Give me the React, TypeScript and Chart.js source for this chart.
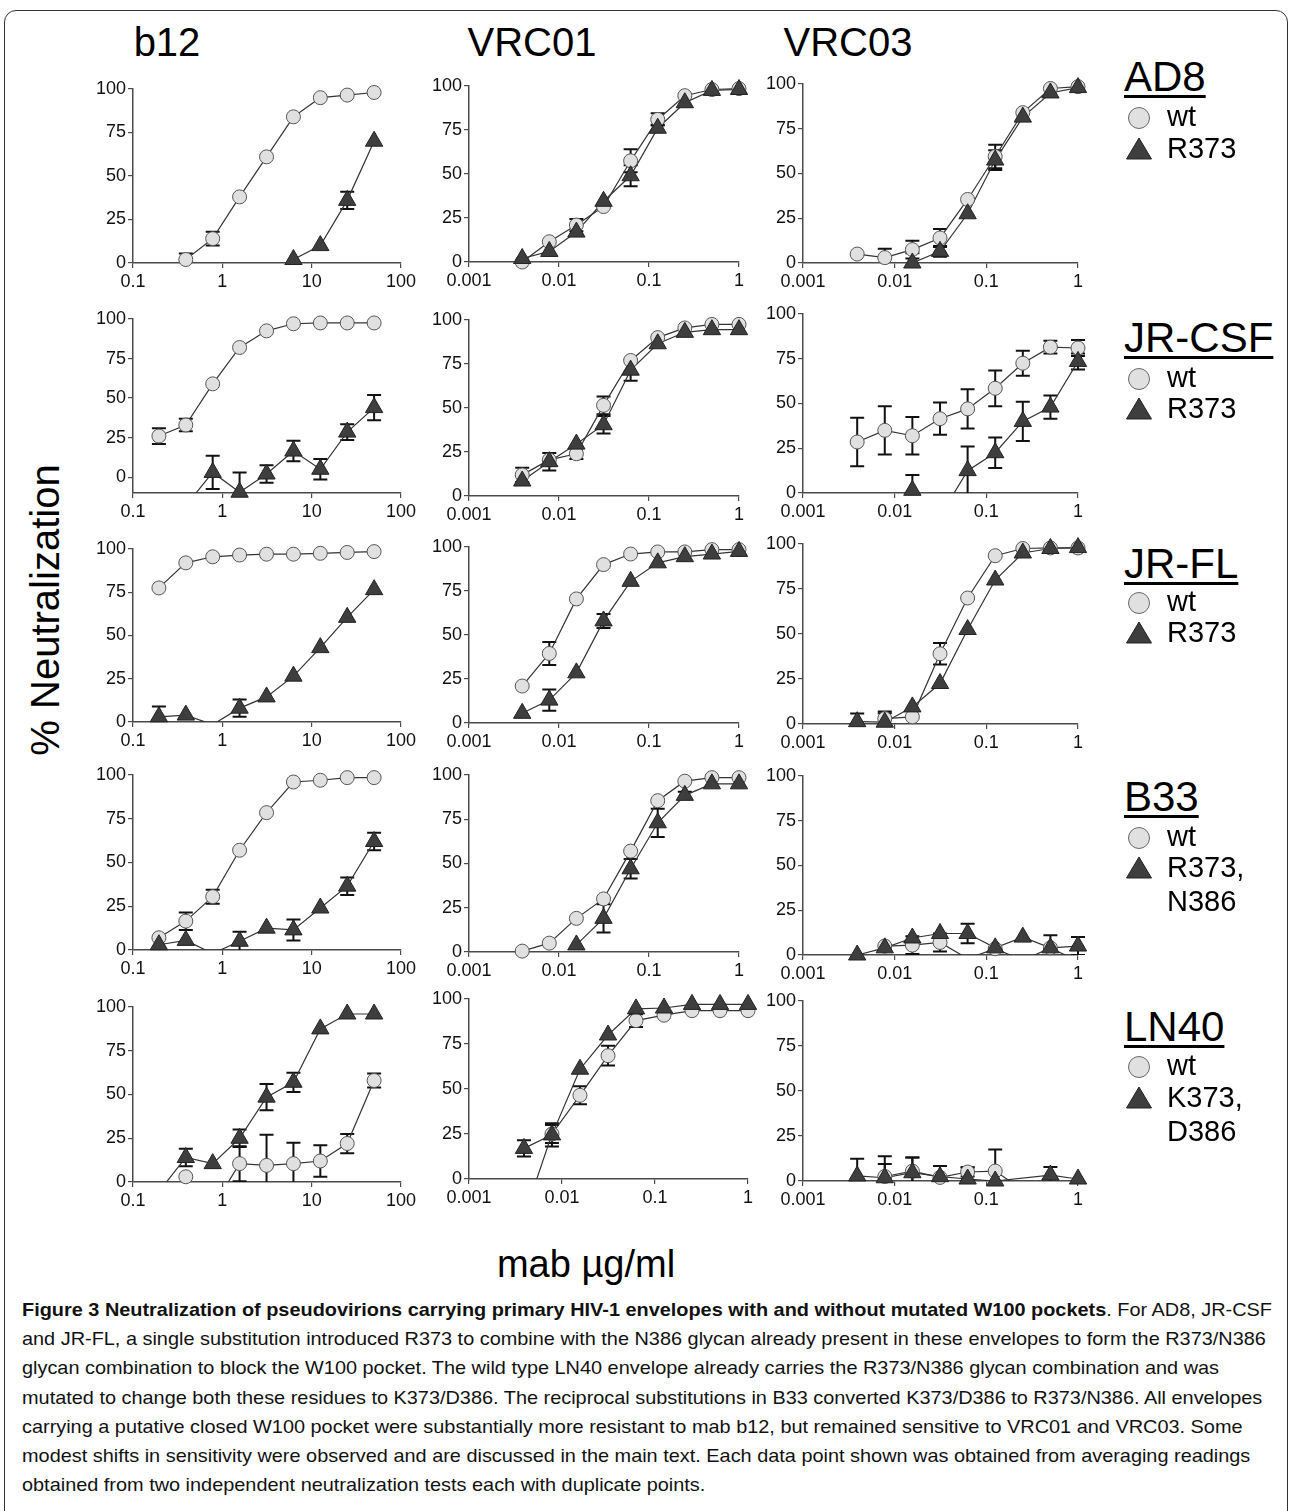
import React, { useEffect, useRef } from "react";
import { Chart, registerables } from "chart.js";
Chart.register(...registerables);

// ---------- data ----------
const B12_DOSES = [0.195, 0.39, 0.78, 1.56, 3.125, 6.25, 12.5, 25, 50];
const VRC_DOSES = [0.0039, 0.0078, 0.0156, 0.03125, 0.0625, 0.125, 0.25, 0.5, 1];
const B12_TICKS = [0.1, 1, 10, 100];
const B12_TICK_LABELS = ["0.1", "1", "10", "100"];
const VRC_TICKS = [0.001, 0.01, 0.1, 1];
const VRC_TICK_LABELS = ["0.001", "0.01", "0.1", "1"];
const Y_TICKS = [0, 25, 50, 75, 100];

const COLUMN_TITLES = ["b12", "VRC01", "VRC03"];
const ENVELOPES = ["AD8", "JR-CSF", "JR-FL", "B33", "LN40"];
const WT_LABEL = "wt";
const MUTANT_LABELS = [["R373"], ["R373"], ["R373"], ["R373,", "N386"], ["K373,", "D386"]];
const Y_TITLE = "% Neutralization";
const X_TITLE = "mab µg/ml";

// AD8
const AD8_B12_WT = [null, 2, 14, 38, 61, 84, 95, 96.5, 98];
const AD8_B12_WT_ERR = [null, 3.5, 4, null, null, null, null, null, null];
const AD8_B12_MUT = [null, null, null, null, null, 2, 10, 36, 70];
const AD8_B12_MUT_ERR = [null, null, null, null, null, null, null, 5, null];
const AD8_VRC01_WT = [0, 11.5, 21, 31.5, 57.5, 81, 94.5, 98, 98.5];
const AD8_VRC01_WT_ERR = [null, null, 3.5, null, 6.5, 3.5, null, null, null];
const AD8_VRC01_MUT = [2, 6, 17, 34.5, 49, 76, 90.5, 97.5, 98];
const AD8_VRC01_MUT_ERR = [null, null, null, null, 6, 2, null, null, null];
const AD8_VRC03_WT = [5, 3, 7.5, 14, 35.5, 59.5, 84, 97.5, 98.5];
const AD8_VRC03_WT_ERR = [null, 5, 5, 5, null, 6.5, null, null, null];
const AD8_VRC03_MUT = [null, null, 0, 6.5, 27.5, 57.5, 81.5, 95, 98];
const AD8_VRC03_MUT_ERR = [null, null, 5.5, 3, null, 5.5, null, null, null];

// JR-CSF
const JRCSF_B12_WT = [26, 33, 59, 82, 92.5, 97, 97.5, 97.5, 97.5];
const JRCSF_B12_WT_ERR = [5, 4, null, null, null, null, null, null, null];
const JRCSF_B12_MUT = [null, -18, 3, -9.5, 2, 16.5, 5, 28.5, 44];
const JRCSF_B12_MUT_ERR = [null, null, 10.5, 12.5, 5.5, 6.5, 6.5, 5, 8];
const JRCSF_VRC01_WT = [12, 20.5, 24, 51.5, 77, 90, 95.5, 97.5, 97.5];
const JRCSF_VRC01_WT_ERR = [4, null, 3, 5, null, null, null, null, null];
const JRCSF_VRC01_MUT = [8.5, 19.5, 29.5, 40.5, 71.5, 86.5, 93, 94.5, 94.5];
const JRCSF_VRC01_MUT_ERR = [null, 5, null, 5, 6, null, null, null, null];
const JRCSF_VRC03_WT = [28.5, 35, 32, 41.5, 47, 58.5, 72.5, 81.5, 81];
const JRCSF_VRC03_WT_ERR = [13.5, 13.5, 10.5, 9, 11, 10, 7, 3.5, 4.5];
const JRCSF_VRC03_MUT = [null, null, 1.5, -13, 12.5, 22.5, 40, 48, 73.5];
const JRCSF_VRC03_MUT_ERR = [null, null, 8.5, null, 13.5, 8.5, 11, 6.5, 4.5];

// JR-FL
const JRFL_B12_WT = [77.5, 92, 95.5, 96.5, 97, 97, 97.5, 98, 98.5];
const JRFL_B12_WT_ERR = [null, null, null, null, null, null, null, null, null];
const JRFL_B12_MUT = [3, 4, -1.5, 8, 14.5, 26.5, 43, 60.5, 76.5];
const JRFL_B12_MUT_ERR = [6, null, null, 5, null, null, null, null, null];
const JRFL_VRC01_WT = [21, 39.5, 70.5, 90, 96, 97.2, 97.2, 98.5, 98.5];
const JRFL_VRC01_WT_ERR = [null, 6.5, null, null, null, null, null, null, null];
const JRFL_VRC01_MUT = [5.5, 13, 28.5, 58, 80.5, 91, 94.5, 96, 97.5];
const JRFL_VRC01_MUT_ERR = [null, 6, null, 4, null, null, null, null, null];
const JRFL_VRC03_WT = [null, 3, 4, 39, 70, 93.5, 97.5, 97.8, 97.8];
const JRFL_VRC03_WT_ERR = [null, 4, null, 6, null, null, null, null, null];
const JRFL_VRC03_MUT = [1.3, 1, 9.5, 22.5, 52.5, 80, 95, 97.5, 98];
const JRFL_VRC03_MUT_ERR = [4.5, 5, null, null, null, null, null, null, null];

// B33
const B33_B12_WT = [7, 16.5, 30.5, 57, 78.5, 96, 97, 98.5, 98.5];
const B33_B12_WT_ERR = [null, 5, 4, null, null, null, null, null, null];
const B33_B12_MUT = [3, 5.5, -2, 5, 12.5, 11.5, 24, 36.5, 62];
const B33_B12_MUT_ERR = [null, null, null, 5.5, null, 6, null, 5, 5];
const B33_VRC01_WT = [0.5, 5, 19, 30, 57, 85.5, 96.5, 98.5, 98.5];
const B33_VRC01_WT_ERR = [null, null, null, null, null, null, null, null, null];
const B33_VRC01_MUT = [null, null, 4, 19, 47, 73, 88.5, 95, 95];
const B33_VRC01_MUT_ERR = [null, null, null, 8, 5.5, 8, 2, null, null];
const B33_VRC03_WT = [null, 5, 5.5, 7, -2, 3.5, -3, 4, -3.5];
const B33_VRC03_WT_ERR = [null, null, 5, 5, null, null, null, null, null];
const B33_VRC03_MUT = [0, 4, 9.5, 12, 12, 4, 10, 4, 5];
const B33_VRC03_MUT_ERR = [null, null, null, null, 5.5, null, null, 7, 5];

// LN40
const LN40_B12_WT = [null, 3, -14.5, 10.5, 9.5, 10.5, 12, 22, 58];
const LN40_B12_WT_ERR = [null, null, null, 10, 17.5, 12, 9, 5.5, 4];
const LN40_B12_MUT = [-5.5, 14, 10.5, 25, 48.5, 57, 87.5, 96, 96];
const LN40_B12_MUT_ERR = [null, 5, null, 5, 7.5, 5.5, null, null, null];
const LN40_VRC01_WT = [-21, 25, 46.5, 68.5, 88, 91, 93.5, 93.5, 93.5];
const LN40_VRC01_WT_ERR = [null, 5, 5, 5.5, 3.5, null, null, null, null];
const LN40_VRC01_MUT = [17, 24.5, 61, 80, 94.5, 95, 97, 97, 97];
const LN40_VRC01_MUT_ERR = [4.5, 6.5, null, null, null, null, null, null, null];
const LN40_VRC03_WT = [null, 2.5, 5.5, 2, 5, 5.5, -5, null, null];
const LN40_VRC03_WT_ERR = [null, 7, 7.5, null, 2.5, 12, null, null, null];
const LN40_VRC03_MUT = [2.8, 1.8, 4.6, 2.4, 1.1, 0, null, 3.3, 1.1];
const LN40_VRC03_MUT_ERR = [9.5, 12, 8.5, 6, 6.5, null, null, 4.5, null];

const CAPTION_BOLD = "Figure 3 Neutralization of pseudovirions carrying primary HIV-1 envelopes with and without mutated W100 pockets";
const CAPTION_LINES = [
  ". For AD8, JR-CSF",
  "and JR-FL, a single substitution introduced R373 to combine with the N386 glycan already present in these envelopes to form the R373/N386",
  "glycan combination to block the W100 pocket. The wild type LN40 envelope already carries the R373/N386 glycan combination and was",
  "mutated to change both these residues to K373/D386. The reciprocal substitutions in B33 converted K373/D386 to R373/N386. All envelopes",
  "carrying a putative closed W100 pocket were substantially more resistant to mab b12, but remained sensitive to VRC01 and VRC03. Some",
  "modest shifts in sensitivity were observed and are discussed in the main text. Each data point shown was obtained from averaging readings",
  "obtained from two independent neutralization tests each with duplicate points.",
];

// ---------- layout ----------
const FONT = '"Liberation Sans", Arial, Helvetica, sans-serif';
const COL_X = [
  { l: 133, r: 401 },
  { l: 469, r: 739 },
  { l: 803, r: 1078 },
];
const ROW_Y = [
  [{ t: 89, b: 263 }, { t: 86, b: 262 }, { t: 84, b: 263 }],
  [{ t: 319, b: 493 }, { t: 320, b: 496 }, { t: 314, b: 493 }],
  [{ t: 549, b: 722 }, { t: 547, b: 723 }, { t: 544, b: 724 }],
  [{ t: 775, b: 950 }, { t: 775, b: 952 }, { t: 776, b: 955 }],
  [{ t: 1007, b: 1182 }, { t: 999, b: 1179 }, { t: 1001, b: 1181 }],
];
const ROW5_VRC01_RIGHT = 748;
const LEGEND_Y = [
  { title: 76, items: [118, 149] },
  { title: 337, items: [379, 409] },
  { title: 563, items: [603, 633] },
  { title: 796, items: [838, 868, 902] },
  { title: 1026, items: [1067, 1098, 1132] },
];

type Arr = (number | null)[];
type PanelDef = {
  doses: number[];
  ticks: number[];
  tickLabels: string[];
  xMin: number;
  xMax: number;
  yMin: number;
  wt: Arr;
  wtErr: Arr;
  mut: Arr;
  mutErr: Arr;
  box: { l: number; r: number; t: number; b: number };
};

const DATA: Arr[][][] = [
  [
    [AD8_B12_WT, AD8_B12_WT_ERR, AD8_B12_MUT, AD8_B12_MUT_ERR],
    [AD8_VRC01_WT, AD8_VRC01_WT_ERR, AD8_VRC01_MUT, AD8_VRC01_MUT_ERR],
    [AD8_VRC03_WT, AD8_VRC03_WT_ERR, AD8_VRC03_MUT, AD8_VRC03_MUT_ERR],
  ],
  [
    [JRCSF_B12_WT, JRCSF_B12_WT_ERR, JRCSF_B12_MUT, JRCSF_B12_MUT_ERR],
    [JRCSF_VRC01_WT, JRCSF_VRC01_WT_ERR, JRCSF_VRC01_MUT, JRCSF_VRC01_MUT_ERR],
    [JRCSF_VRC03_WT, JRCSF_VRC03_WT_ERR, JRCSF_VRC03_MUT, JRCSF_VRC03_MUT_ERR],
  ],
  [
    [JRFL_B12_WT, JRFL_B12_WT_ERR, JRFL_B12_MUT, JRFL_B12_MUT_ERR],
    [JRFL_VRC01_WT, JRFL_VRC01_WT_ERR, JRFL_VRC01_MUT, JRFL_VRC01_MUT_ERR],
    [JRFL_VRC03_WT, JRFL_VRC03_WT_ERR, JRFL_VRC03_MUT, JRFL_VRC03_MUT_ERR],
  ],
  [
    [B33_B12_WT, B33_B12_WT_ERR, B33_B12_MUT, B33_B12_MUT_ERR],
    [B33_VRC01_WT, B33_VRC01_WT_ERR, B33_VRC01_MUT, B33_VRC01_MUT_ERR],
    [B33_VRC03_WT, B33_VRC03_WT_ERR, B33_VRC03_MUT, B33_VRC03_MUT_ERR],
  ],
  [
    [LN40_B12_WT, LN40_B12_WT_ERR, LN40_B12_MUT, LN40_B12_MUT_ERR],
    [LN40_VRC01_WT, LN40_VRC01_WT_ERR, LN40_VRC01_MUT, LN40_VRC01_MUT_ERR],
    [LN40_VRC03_WT, LN40_VRC03_WT_ERR, LN40_VRC03_MUT, LN40_VRC03_MUT_ERR],
  ],
];

const PANELS: PanelDef[] = [];
DATA.forEach((row, ri) => {
  row.forEach((d, ci) => {
    const isB12 = ci === 0;
    const x = COL_X[ci];
    PANELS.push({
      doses: isB12 ? B12_DOSES : VRC_DOSES,
      ticks: isB12 ? B12_TICKS : VRC_TICKS,
      tickLabels: isB12 ? B12_TICK_LABELS : VRC_TICK_LABELS,
      xMin: isB12 ? B12_TICKS[0] : VRC_TICKS[0],
      xMax: isB12 ? B12_TICKS[3] : VRC_TICKS[3],
      yMin: ri === 1 && isB12 ? -10 : 0,
      wt: d[0],
      wtErr: d[1],
      mut: d[2],
      mutErr: d[3],
      box: {
        l: x.l,
        r: ri === 4 && ci === 1 ? ROW5_VRC01_RIGHT : x.r,
        t: ROW_Y[ri][ci].t,
        b: ROW_Y[ri][ci].b,
      },
    });
  });
});

const PAD_L = 52;
const PAD_T = 16;
const PAD_R = 30;
const PAD_B = 34;
const AXIS_COLOR = "#4a4a4a";
const WT_FILL = "#e0e0e0";
const MUT_FILL = "#3e3e3e";

function Panel({ p }: { p: PanelDef }) {
  const ref = useRef<HTMLCanvasElement>(null);
  const w = p.box.r - p.box.l + PAD_L + PAD_R;
  const h = p.box.b - p.box.t + PAD_T + PAD_B;
  useEffect(() => {
    const toPts = (vals: Arr) => p.doses.map((d, i) => ({ x: d, y: vals[i] }));
    const radiusFor = (r: number) => (ctx: any) => {
      const v = ctx.raw ? ctx.raw.y : null;
      return v == null || v < p.yMin ? 0 : r;
    };
    const errPlugin = {
      id: "errbars",
      beforeDatasetsDraw(chart: any) {
        const { ctx, chartArea: a, scales } = chart;
        const xs = scales.x;
        const ys = scales.y;
        ctx.save();
        ctx.beginPath();
        ctx.rect(a.left - 12, a.top - 30, a.right - a.left + 24, a.bottom - a.top + 30);
        ctx.clip();
        ctx.strokeStyle = "#111";
        ctx.lineWidth = 2;
        const series: [Arr, Arr][] = [
          [p.wt, p.wtErr],
          [p.mut, p.mutErr],
        ];
        series.forEach(([vals, errs]) => {
          p.doses.forEach((d, i) => {
            const v = vals[i];
            const e = errs[i];
            if (v == null || e == null) return;
            const px = xs.getPixelForValue(d);
            const top = ys.getPixelForValue(v + e);
            const bot = ys.getPixelForValue(v - e);
            ctx.beginPath();
            ctx.moveTo(px, top);
            ctx.lineTo(px, bot);
            ctx.moveTo(px - 7, top);
            ctx.lineTo(px + 7, top);
            ctx.moveTo(px - 7, bot);
            ctx.lineTo(px + 7, bot);
            ctx.stroke();
          });
        });
        ctx.restore();
      },
    };
    const lineDs = (vals: Arr) => ({
      data: toPts(vals),
      borderColor: "#333",
      borderWidth: 1.2,
      pointRadius: 0,
      spanGaps: true,
      tension: 0,
      fill: false,
      order: 3,
    });
    const chart = new Chart(ref.current as HTMLCanvasElement, {
      type: "line",
      data: {
        datasets: [
          lineDs(p.wt) as any,
          lineDs(p.mut) as any,
          {
            data: toPts(p.wt),
            showLine: false,
            clip: false,
            pointStyle: "circle",
            pointRadius: radiusFor(7),
            pointBackgroundColor: WT_FILL,
            pointBorderColor: "#555",
            pointBorderWidth: 1,
            order: 2,
          } as any,
          {
            data: toPts(p.mut),
            showLine: false,
            clip: false,
            pointStyle: "triangle",
            pointRadius: radiusFor(10),
            pointBackgroundColor: MUT_FILL,
            pointBorderColor: "#222",
            pointBorderWidth: 1,
            order: 1,
          } as any,
        ],
      },
      options: {
        responsive: false,
        animation: false,
        events: [],
        layout: { padding: { top: PAD_T, right: PAD_R, left: 0, bottom: 0 } },
        plugins: { legend: { display: false }, tooltip: { enabled: false } },
        scales: {
          x: {
            type: "logarithmic",
            min: p.xMin,
            max: p.xMax,
            afterFit: (s: any) => {
              s.height = PAD_B;
            },
            afterBuildTicks: (s: any) => {
              s.ticks = p.ticks.map((v) => ({ value: v }));
            },
            ticks: {
              autoSkip: false,
              maxRotation: 0,
              padding: 3,
              color: "#111",
              font: { family: FONT, size: 18 },
              callback: (_v: any, i: number) => p.tickLabels[i],
            },
            grid: { display: true, drawOnChartArea: false, drawTicks: true, tickLength: 5, color: AXIS_COLOR, lineWidth: 1.2 },
            border: { display: true, color: AXIS_COLOR, width: 1.5 },
          } as any,
          y: {
            type: "linear",
            min: p.yMin,
            max: 100,
            afterFit: (s: any) => {
              s.width = PAD_L;
            },
            afterBuildTicks: (s: any) => {
              s.ticks = Y_TICKS.map((v) => ({ value: v }));
            },
            ticks: {
              padding: 2,
              color: "#111",
              font: { family: FONT, size: 18 },
              callback: (v: any) => String(v),
            },
            grid: { display: true, drawOnChartArea: false, drawTicks: true, tickLength: 5, color: AXIS_COLOR, lineWidth: 1.2 },
            border: { display: true, color: AXIS_COLOR, width: 1.5 },
          } as any,
        },
      },
      plugins: [errPlugin],
    });
    return () => chart.destroy();
  }, []);
  return (
    <canvas
      ref={ref}
      width={w}
      height={h}
      style={{ position: "absolute", left: p.box.l - PAD_L, top: p.box.t - PAD_T, width: w, height: h }}
    />
  );
}

function Marker({ kind, cx, cy }: { kind: "circle" | "triangle"; cx: number; cy: number }) {
  const s = 28;
  return (
    <svg width={s} height={s} style={{ position: "absolute", left: cx - s / 2, top: cy - s / 2 }}>
      {kind === "circle" ? (
        <circle cx={s / 2} cy={s / 2} r={10.5} fill={WT_FILL} stroke="#666" strokeWidth={1} />
      ) : (
        <polygon points={`${s / 2},${s / 2 - 11} ${s / 2 + 12.5},${s / 2 + 10} ${s / 2 - 12.5},${s / 2 + 10}`} fill={MUT_FILL} stroke="#222" strokeWidth={1} />
      )}
    </svg>
  );
}

function TextAt({ text, left, cy, size, extra }: { text: string; left: number; cy: number; size: number; extra?: any }) {
  const lh = Math.round(size * 1.3);
  return (
    <div
      style={{
        position: "absolute",
        left,
        top: cy - lh / 2,
        height: lh,
        lineHeight: `${lh}px`,
        fontSize: size,
        fontFamily: FONT,
        color: "#000",
        whiteSpace: "nowrap",
        ...extra,
      }}
    >
      {text}
    </div>
  );
}

function Legends() {
  const items: any[] = [];
  LEGEND_Y.forEach((ly, ri) => {
    items.push(
      <TextAt
        key={`t${ri}`}
        text={ENVELOPES[ri]}
        left={1124}
        cy={ly.title}
        size={42}
        extra={{ textDecoration: "underline", textDecorationThickness: "3px", textUnderlineOffset: "4px" }}
      />
    );
    items.push(<Marker key={`mw${ri}`} kind="circle" cx={1139} cy={ly.items[0]} />);
    items.push(<TextAt key={`w${ri}`} text={WT_LABEL} left={1167} cy={ly.items[0] - 2} size={29} />);
    items.push(<Marker key={`mm${ri}`} kind="triangle" cx={1139} cy={ly.items[1]} />);
    MUTANT_LABELS[ri].forEach((lab, k) => {
      items.push(<TextAt key={`m${ri}_${k}`} text={lab} left={1167} cy={ly.items[1 + k] - 1} size={29} />);
    });
  });
  return <>{items}</>;
}

function Caption() {
  const boxRef = useRef<HTMLDivElement>(null);
  const line1 = useRef<HTMLSpanElement>(null);
  const line2 = useRef<HTMLSpanElement>(null);
  useEffect(() => {
    const box = boxRef.current;
    if (!box || !line1.current || !line2.current) return;
    const w1 = line1.current.getBoundingClientRect().width;
    const w2 = line2.current.getBoundingClientRect().width;
    if (w1 > 0 && w2 > 0) box.style.transform = `scaleX(${Math.min(1250 / w1, 1252 / w2)})`;
  }, []);
  const lineStyle: any = { height: 29.2, lineHeight: "29.2px", whiteSpace: "nowrap" };
  return (
    <div
      ref={boxRef}
      style={{
        position: "absolute",
        left: 22,
        top: 1295,
        transformOrigin: "left top",
        fontFamily: FONT,
        fontSize: 19,
        color: "#111",
      }}
    >
      <div style={lineStyle}>
        <span ref={line1} style={{ display: "inline-block" }}>
          <b>{CAPTION_BOLD}</b>
          {CAPTION_LINES[0]}
        </span>
      </div>
      {CAPTION_LINES.slice(1).map((l, i) => (
        <div key={i} style={lineStyle}>
          {i === 0 ? (
            <span ref={line2} style={{ display: "inline-block" }}>
              {l}
            </span>
          ) : (
            l
          )}
        </div>
      ))}
    </div>
  );
}

export default function App() {
  const colCenters = [167, 532, 848];
  return (
    <div style={{ position: "absolute", left: 0, top: 0, width: 1293, height: 1511, background: "#fff", overflow: "hidden" }}>
      <div
        style={{
          position: "absolute",
          left: 4,
          top: 10,
          width: 1284,
          height: 1530,
          border: "1.5px solid #333",
          borderRadius: 12,
          boxSizing: "border-box",
        }}
      />
      {COLUMN_TITLES.map((t, i) => (
        <div
          key={t}
          style={{
            position: "absolute",
            left: colCenters[i] - 100,
            width: 200,
            top: 18,
            height: 48,
            lineHeight: "48px",
            textAlign: "center",
            fontSize: 40,
            fontFamily: FONT,
          }}
        >
          {t}
        </div>
      ))}
      <div
        style={{
          position: "absolute",
          left: 45 - 200,
          top: 610 - 25,
          width: 400,
          height: 50,
          lineHeight: "50px",
          textAlign: "center",
          fontSize: 40,
          fontFamily: FONT,
          transform: "rotate(-90deg)",
        }}
      >
        {Y_TITLE}
      </div>
      <div
        style={{
          position: "absolute",
          left: 586 - 200,
          width: 400,
          top: 1264 - 25,
          height: 50,
          lineHeight: "50px",
          textAlign: "center",
          fontSize: 38,
          fontFamily: FONT,
        }}
      >
        {X_TITLE}
      </div>
      {PANELS.map((p, i) => (
        <Panel key={i} p={p} />
      ))}
      <Legends />
      <Caption />
    </div>
  );
}
